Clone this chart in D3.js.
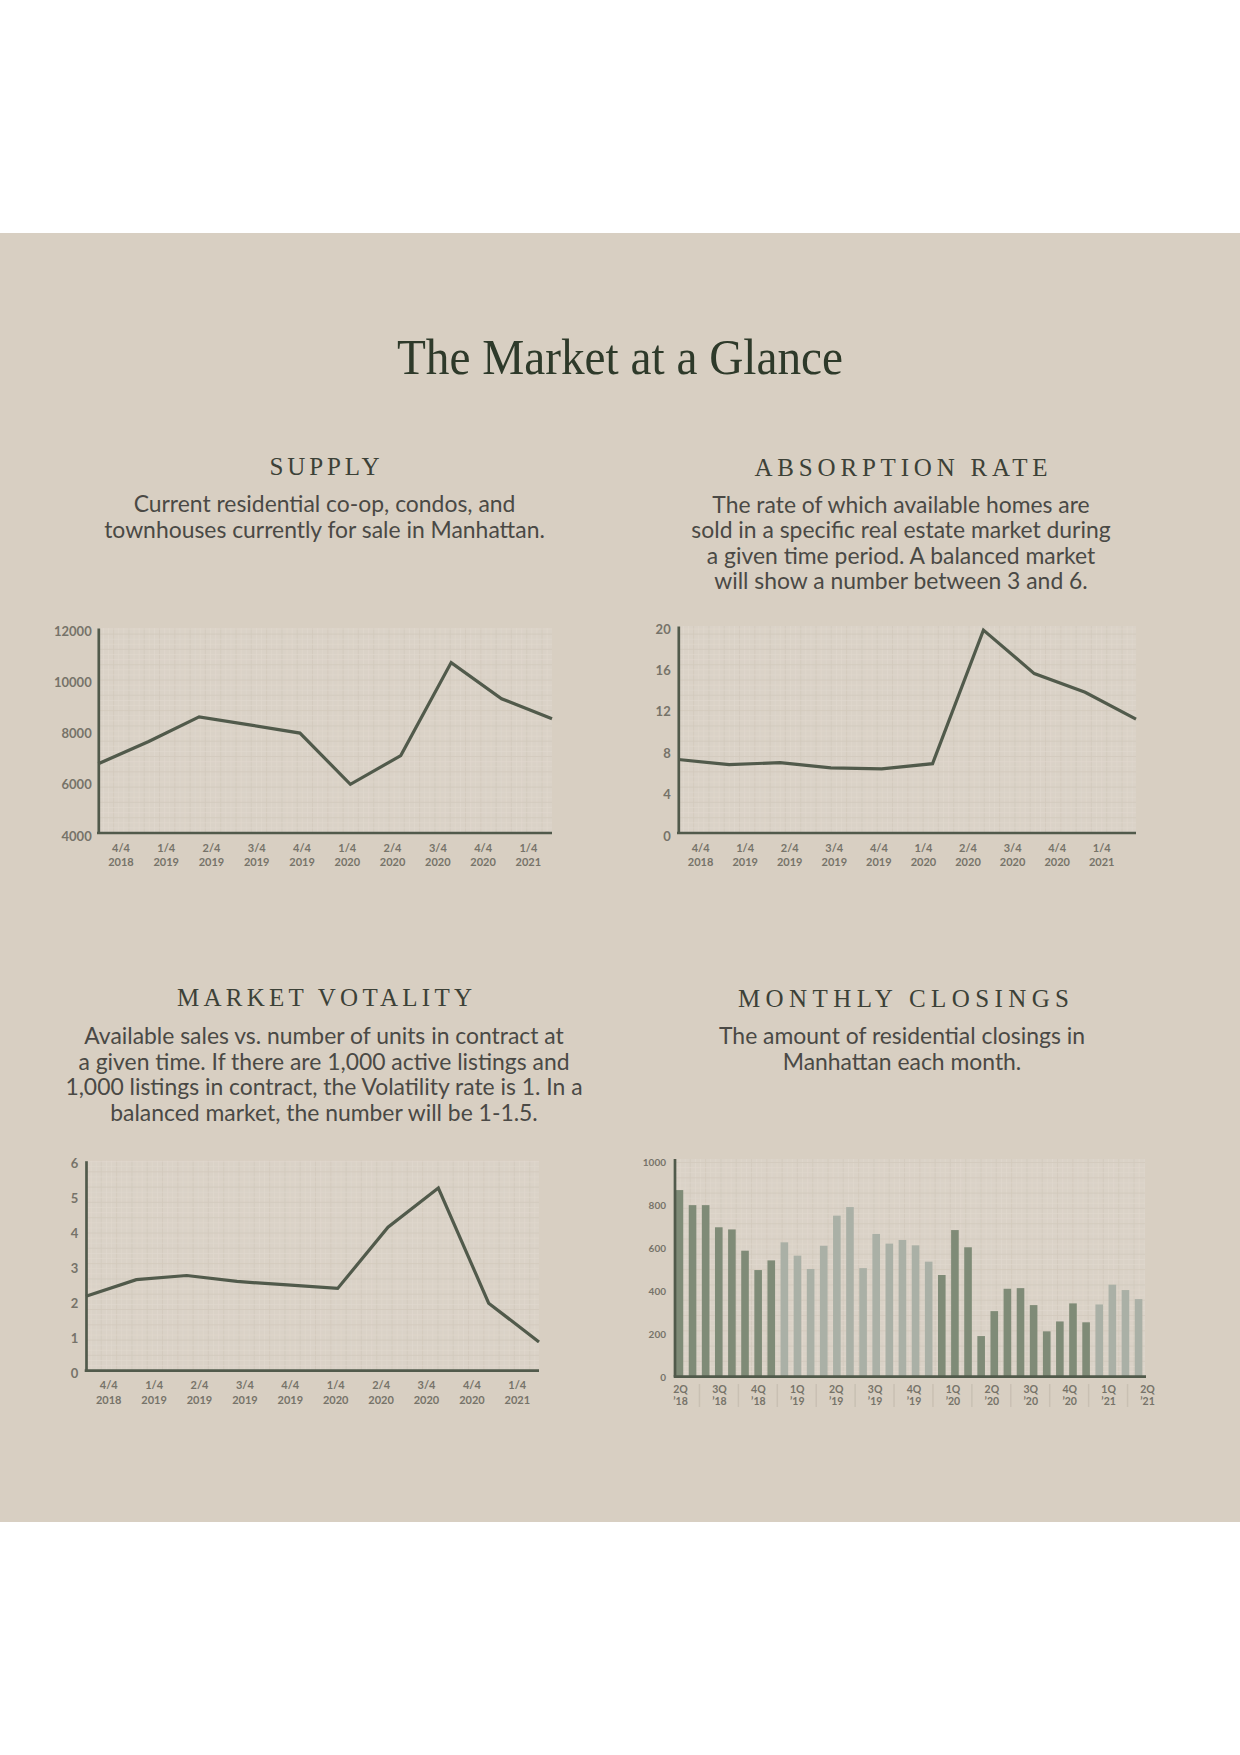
<!DOCTYPE html>
<html>
<head>
<meta charset="utf-8">
<script src="https://cdn.jsdelivr.net/npm/d3@7"></script>
<style>
  body { margin: 0; background: #ffffff; }
  svg { display: block; }
</style>
</head>
<body>
<div id="content"></div>
<script>
// data
const periods = ["4/4 2018", "1/4 2019", "2/4 2019", "3/4 2019", "4/4 2019",
                 "1/4 2020", "2/4 2020", "3/4 2020", "4/4 2020", "1/4 2021"];

const supplyValues = [6700, 7570, 8530, 8220, 7900, 5900, 7020, 10650, 9240, 8460];
const supplyTicks = [4000, 6000, 8000, 10000, 12000];

const absorptionValues = [7.1, 6.6, 6.8, 6.3, 6.2, 6.7, 19.6, 15.4, 13.6, 11.0];
const absorptionTicks = [0, 4, 8, 12, 16, 20];

const volatilityValues = [2.13, 2.6, 2.72, 2.55, 2.45, 2.35, 4.1, 5.22, 1.93, 0.82];
const volatilityTicks = [0, 1, 2, 3, 4, 5, 6];

const closingMonths = ["2018-05", "2018-06", "2018-07", "2018-08", "2018-09", "2018-10", "2018-11", "2018-12",
                       "2019-01", "2019-02", "2019-03", "2019-04", "2019-05", "2019-06", "2019-07", "2019-08",
                       "2019-09", "2019-10", "2019-11", "2019-12", "2020-01", "2020-02", "2020-03", "2020-04",
                       "2020-05", "2020-06", "2020-07", "2020-08", "2020-09", "2020-10", "2020-11", "2020-12",
                       "2021-01", "2021-02", "2021-03", "2021-04"];
const closingValues = [868, 798, 798, 695, 685, 586, 496, 541,
                       625, 563, 501, 609, 749, 789, 505, 664,
                       619, 636, 611, 535, 473, 682, 602, 189,
                       305, 409, 412, 333, 211, 257, 341, 253,
                       336, 428, 403, 361];
const closingTicks = [0, 200, 400, 600, 800, 1000];
const closingQuarters = ["2Q \u201918", "3Q \u201918", "4Q \u201918", "1Q \u201919", "2Q \u201919", "3Q \u201919",
                         "4Q \u201919", "1Q \u201920", "2Q \u201920", "3Q \u201920", "4Q \u201920", "1Q \u201921", "2Q \u201921"];

const line_color = "#515a4b";
const label_color = "#767369";
const bar_dark = "#7f8b77";
const bar_light = "#aab0a6";
const serif = "'Liberation Serif', serif";
const sans = "Lato, 'Open Sans', sans-serif";
const plain = d3.format("d");

var svg = d3.select("#content")
    .append("svg")
    .attr("width", 1240)
    .attr("height", 1755);

svg.append("rect").attr("width", 1240).attr("height", 1755).attr("fill", "#ffffff");
svg.append("rect").attr("y", 233).attr("width", 1240).attr("height", 1289).attr("fill", "#d8cfc2");

svg.append("text")
    .attr("x", 620)
    .attr("y", 374)
    .attr("text-anchor", "middle")
    .attr("textLength", 446)
    .attr("lengthAdjust", "spacingAndGlyphs")
    .style("font-family", serif)
    .style("font-size", "51px")
    .attr("fill", "#2e3a2a")
    .text("The Market at a Glance");

function header(txt, cx, baseline, width) {
    svg.append("text")
        .attr("x", cx)
        .attr("y", baseline)
        .attr("text-anchor", "middle")
        .attr("textLength", width)
        .attr("lengthAdjust", "spacing")
        .style("font-family", serif)
        .style("font-size", "25px")
        .attr("fill", "#3c4137")
        .text(txt);
}

header("SUPPLY", 324.5, 474.5, 110);
header("ABSORPTION RATE", 901, 476, 293);
header("MARKET VOTALITY", 324.5, 1006, 295);
header("MONTHLY CLOSINGS", 903.5, 1006.5, 331);

// fit description size on the first supply line (382px wide in the report)
var probe = svg.append("text")
    .style("font-family", sans)
    .style("font-size", "20px")
    .text("Current residential co-op, condos, and");
const desc_size = 20 * 382 / probe.node().getComputedTextLength();
probe.remove();

function description(lines, cx, first_baseline) {
    svg.append("g")
        .selectAll("text")
        .data(lines)
        .join("text")
        .attr("x", cx)
        .attr("y", (d, i) => first_baseline + i * 25.5)
        .attr("text-anchor", "middle")
        .style("font-family", sans)
        .style("font-size", desc_size + "px")
        .attr("fill", "#4a4945")
        .text(d => d);
}

description(["Current residential co-op, condos, and",
             "townhouses currently for sale in Manhattan."], 324.5, 512);
description(["The rate of which available homes are",
             "sold in a specific real estate market during",
             "a given time period. A balanced market",
             "will show a number between 3 and 6."], 901, 512.5);
description(["Available sales vs. number of units in contract at",
             "a given time. If there are 1,000 active listings and",
             "1,000 listings in contract, the Volatility rate is 1. In a",
             "balanced market, the number will be 1-1.5."], 324, 1044);
description(["The amount of residential closings in",
             "Manhattan each month."], 902, 1044);

// graph paper behind each chart
function draw_grid(g, x0, x1, y_top, y_bottom) {
    g.append("rect")
        .attr("x", x0).attr("y", y_top)
        .attr("width", x1 - x0).attr("height", y_bottom - y_top)
        .attr("fill", "#dad2c7");
    const step = 5.1;
    const xs = d3.range(x0 + step, x1, step);
    const ys = d3.range(y_bottom - step, y_top, -step);
    g.append("g").selectAll("line")
        .data(xs)
        .join("line")
        .attr("x1", d => d).attr("x2", d => d)
        .attr("y1", y_top).attr("y2", y_bottom)
        .attr("stroke", (d, i) => i % 3 === 2 ? "#d2c9bd" : "#e0d8ce")
        .attr("stroke-width", (d, i) => i % 3 === 2 ? 0.8 : 0.6);
    g.append("g").selectAll("line")
        .data(ys)
        .join("line")
        .attr("x1", x0).attr("x2", x1)
        .attr("y1", d => d).attr("y2", d => d)
        .attr("stroke", (d, i) => i % 3 === 2 ? "#d2c9bd" : "#e0d8ce")
        .attr("stroke-width", (d, i) => i % 3 === 2 ? 0.8 : 0.6);
}

function two_line_labels(axis_g, y1, y2) {
    axis_g.selectAll(".tick").each(function (d) {
        var parts = d.split(" ");
        var t = d3.select(this).select("text").text(null).attr("y", null).attr("dy", null);
        t.append("tspan").attr("x", 0).attr("y", y1).text(parts[0]);
        t.append("tspan").attr("x", 0).attr("y", y2).text(parts[1]);
    });
}

function line_chart(o) {
    var g = svg.append("g");
    draw_grid(g, o.x0, o.x1, o.y_top, o.y_bottom);

    var y = d3.scaleLinear().domain([o.ticks[0], o.ticks[o.ticks.length - 1]]).range([o.y_bottom, o.y_top]);
    var x_point = d3.scalePoint().domain(periods).range([o.x0, o.x1]);
    var x_band = d3.scaleBand().domain(periods).range([o.x0, o.label_end]);

    g.append("path")
        .datum(o.values)
        .attr("fill", "none")
        .attr("stroke", line_color)
        .attr("stroke-width", 3.2)
        .attr("d", d3.line().x((d, i) => x_point(periods[i])).y(d => y(d)));

    var y_axis = g.append("g")
        .attr("transform", `translate(${o.x0},0)`)
        .call(d3.axisLeft(y).tickValues(o.ticks).tickFormat(plain).tickSize(0).tickPadding(o.pad));
    y_axis.select(".domain").attr("stroke", line_color).attr("stroke-width", 2.7);
    y_axis.selectAll("text")
        .attr("dy", "0.55em")
        .style("font-family", sans)
        .style("font-size", "13px")
        .style("font-weight", 700)
        .attr("fill", label_color);

    var x_axis = g.append("g")
        .attr("transform", `translate(0,${o.y_bottom})`)
        .call(d3.axisBottom(x_band).tickSize(0));
    x_axis.select(".domain").remove();
    x_axis.selectAll("text")
        .style("font-family", sans)
        .style("font-size", "11px")
        .style("font-weight", 700)
        .attr("fill", label_color);
    two_line_labels(x_axis, 18.7, 33.3);

    g.append("line")
        .attr("x1", o.x0 - 1.3).attr("x2", o.x1)
        .attr("y1", o.y_bottom).attr("y2", o.y_bottom)
        .attr("stroke", line_color)
        .attr("stroke-width", 2.7);
}

line_chart({ values: supplyValues, ticks: supplyTicks, x0: 98.3, x1: 552, label_end: 551,
             y_top: 628, y_bottom: 833, pad: 6.6 });
line_chart({ values: absorptionValues, ticks: absorptionTicks, x0: 678.3, x1: 1136, label_end: 1124,
             y_top: 626, y_bottom: 833, pad: 7.6 });
line_chart({ values: volatilityValues, ticks: volatilityTicks, x0: 86, x1: 539, label_end: 540,
             y_top: 1160.7, y_bottom: 1370.7, pad: 7.7 });

// monthly closings bars
var bars_g = svg.append("g");
draw_grid(bars_g, 675, 1145, 1159, 1376.7);

var xb = d3.scaleBand().domain(closingMonths).range([673, 1145]).paddingInner(0.42).paddingOuter(0.2);
var yb = d3.scaleLinear().domain([0, 1000]).range([1376.7, 1161.7]);

bars_g.append("g")
    .selectAll("rect")
    .data(closingValues)
    .join("rect")
    .attr("x", (d, i) => xb(closingMonths[i]))
    .attr("y", d => yb(d))
    .attr("width", xb.bandwidth())
    .attr("height", d => yb(0) - yb(d))
    .attr("fill", (d, i) => (+closingMonths[i].slice(0, 4)) % 2 === 0 ? bar_dark : bar_light);

var yb_axis = bars_g.append("g")
    .attr("transform", "translate(675,0)")
    .call(d3.axisLeft(yb).tickValues(closingTicks).tickFormat(plain).tickSize(0).tickPadding(9));
yb_axis.select(".domain").remove();
yb_axis.selectAll("text")
    .attr("dy", "0.4em")
    .style("font-family", sans)
    .style("font-size", "10px")
    .style("font-weight", 700)
    .attr("fill", label_color);

bars_g.append("line")
    .attr("x1", 675).attr("x2", 675)
    .attr("y1", 1159).attr("y2", 1376.7)
    .attr("stroke", line_color).attr("stroke-width", 2.7);

var xq = d3.scalePoint().domain(closingQuarters).range([680, 1147]);
var xq_axis = bars_g.append("g")
    .attr("transform", "translate(0,1376.7)")
    .call(d3.axisBottom(xq).tickSize(0));
xq_axis.select(".domain").remove();
xq_axis.selectAll("text")
    .style("font-family", sans)
    .style("font-size", "10.5px")
    .style("font-weight", 700)
    .attr("fill", label_color);
two_line_labels(xq_axis, 16, 28.5);

// little separators between quarter labels
bars_g.append("g")
    .selectAll("line")
    .data(closingQuarters.slice(1))
    .join("line")
    .attr("x1", d => xq(d) - xq.step() / 2)
    .attr("x2", d => xq(d) - xq.step() / 2)
    .attr("y1", 1384).attr("y2", 1407)
    .attr("stroke", "#c9c0b3")
    .attr("stroke-width", 1.5);

bars_g.append("line")
    .attr("x1", 673.7).attr("x2", 1146)
    .attr("y1", 1376.7).attr("y2", 1376.7)
    .attr("stroke", line_color).attr("stroke-width", 2.7);
</script>
</body>
</html>
